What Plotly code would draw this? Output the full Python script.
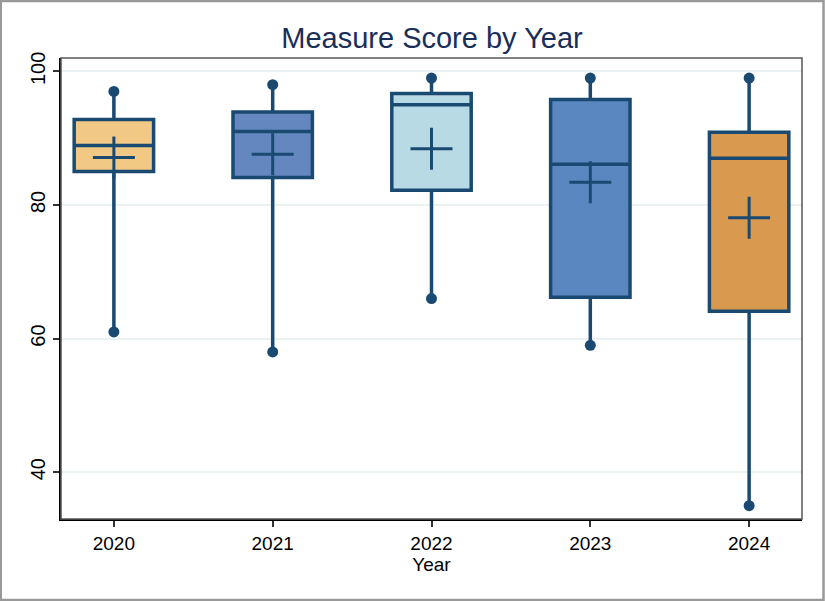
import plotly.graph_objects as go

years = ["2020", "2021", "2022", "2023", "2024"]
q1 = [85.0, 84.1, 82.2, 66.2, 64.1]
median = [88.9, 91.0, 95.0, 86.1, 87.0]
q3 = [92.8, 93.9, 96.7, 95.8, 90.9]
mins = [61, 58, 66, 59, 35]
maxs = [97, 98, 99, 99, 99]
means = [87.1, 87.6, 88.4, 83.4, 78.1]
colors = ["#F2C885", "#6487BF", "#B7DAE5", "#5B87C0", "#D99A50"]
yticks = [40, 60, 80, 100]

navy = "#1A4A72"
fig = go.Figure()
xs = list(range(len(years)))
for i in xs:
    fig.add_trace(go.Box(
        x=[i], q1=[q1[i]], median=[median[i]], q3=[q3[i]],
        lowerfence=[mins[i]], upperfence=[maxs[i]],
        fillcolor=colors[i], line=dict(color=navy, width=3.5),
        width=0.5, whiskerwidth=0, boxpoints=False, showlegend=False,
        hoverinfo="skip"))

fig.add_trace(go.Scatter(x=xs + xs, y=mins + maxs, mode="markers",
                         marker=dict(color=navy, size=11), showlegend=False))
fig.add_trace(go.Scatter(x=xs, y=means, mode="markers",
                         marker=dict(symbol="cross-thin", size=30, color=navy,
                                     line=dict(color=navy, width=3)),
                         showlegend=False))

L, R, T, B = 61, 23, 58, 82
W, H = 825, 601
pw, ph = W - L - R, H - T - B

fig.update_layout(
    width=W, height=H, margin=dict(l=L, r=R, t=T, b=B),
    paper_bgcolor="white", plot_bgcolor="white",
    boxmode="overlay",
    font=dict(family="Liberation Sans, Arial, sans-serif", color="black", size=19),
    title=dict(text="Measure Score by Year", x=432 / W, xanchor="center",
               y=1 - 38 / H, yanchor="middle",
               font=dict(size=29, color="#1A2E5A")),
    xaxis=dict(range=[-0.333, 4.333], tickmode="array", tickvals=xs, ticktext=years,
               showgrid=False, zeroline=False, showline=True, linecolor="black",
               linewidth=2, ticks="outside", ticklen=6, tickwidth=1.5, tickcolor="#333",
               tickfont=dict(size=19),
               title=dict(text="Year", standoff=0, font=dict(size=19))),
    yaxis=dict(range=[33, 102], tickmode="array", tickvals=yticks,
               tickangle=-90, showgrid=True, gridcolor="#EAF2F3", gridwidth=1.5,
               zeroline=False, showline=True, linecolor="black", linewidth=2,
               ticks="outside", ticklen=6, tickwidth=1.5, tickcolor="#333",
               tickfont=dict(size=20)),
    shapes=[
        dict(type="rect", xref="paper", yref="paper", x0=0, x1=1, y0=0, y1=1,
             line=dict(color="#555", width=1.5), layer="above"),
        dict(type="rect", xref="paper", yref="paper",
             x0=-L / pw + 0.001, x1=1 + R / pw - 0.002,
             y0=-B / ph + 0.002, y1=1 + T / ph - 0.002,
             line=dict(color="#999", width=2.5)),
    ],
)
fig.write_html("out.html")
